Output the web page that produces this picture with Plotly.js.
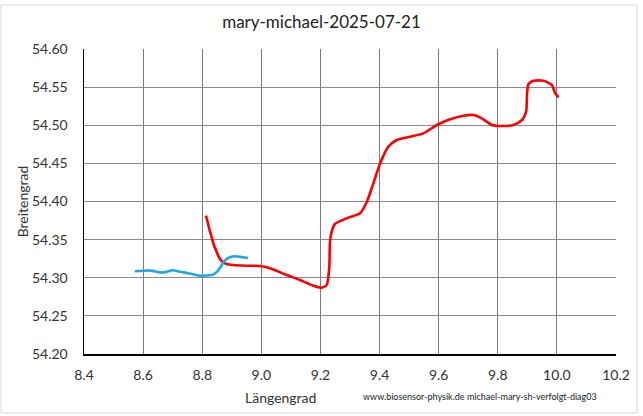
<!DOCTYPE html>
<html>
<head>
<meta charset="utf-8">
<script src="https://cdn.plot.ly/plotly-3.0.1.min.js"></script>
<style>
html,body{margin:0;padding:0;background:#fff;}
#chart{width:643px;height:416px;}
</style>
</head>
<body>
<div id="chart"></div>
<script>
// Michael track (blue)
const michaelLon = [8.572, 8.600, 8.623, 8.640, 8.656, 8.677, 8.700, 8.720, 8.741, 8.770, 8.792, 8.815, 8.836, 8.850, 8.860, 8.873, 8.887, 8.911, 8.934, 8.955];
const michaelLat = [54.3085, 54.3092, 54.3094, 54.3085, 54.3070, 54.3074, 54.3098, 54.3082, 54.3067, 54.3045, 54.3028, 54.3030, 54.3041, 54.3080, 54.3129, 54.3210, 54.3258, 54.3281, 54.3270, 54.3260];

// Mary track (red)
const maryLon = [8.812, 8.8167, 8.8234, 8.8316, 8.8394, 8.8485, 8.8573, 8.8688, 8.8824, 8.9047, 8.9501, 8.9952, 9.029, 9.086, 9.131, 9.176, 9.204, 9.221, 9.230, 9.232, 9.238, 9.249, 9.289, 9.334, 9.357, 9.379, 9.402, 9.430, 9.458, 9.503, 9.548, 9.594, 9.639, 9.684, 9.718, 9.746, 9.780, 9.808, 9.853, 9.882, 9.896, 9.899, 9.904, 9.921, 9.955, 9.983, 9.994, 10.006];
const maryLat = [54.3814, 54.3757, 54.3648, 54.3538, 54.3430, 54.3342, 54.3263, 54.3210, 54.3180, 54.3167, 54.3158, 54.3154, 54.3124, 54.3036, 54.2970, 54.2896, 54.2870, 54.2905, 54.3145, 54.3456, 54.3604, 54.3705, 54.3780, 54.3845, 54.3997, 54.4239, 54.4501, 54.4719, 54.4807, 54.4850, 54.4894, 54.5003, 54.5078, 54.5125, 54.5134, 54.5091, 54.5003, 54.4990, 54.5003, 54.5069, 54.5178, 54.5419, 54.5541, 54.5584, 54.5584, 54.5528, 54.5419, 54.5367];

const chartTitle = "mary-michael-2025-07-21";
const xTitle = "Längengrad";
const yTitle = "Breitengrad";
const footer = "www.biosensor-physik.de michael-mary-sh-verfolgt-diag03";

const font = "Lato, 'Open Sans', sans-serif";

const traces = [
  {x: maryLon, y: maryLat, type: 'scatter', mode: 'lines', name: 'mary',
   line: {color: '#ff0000', width: 2.6, shape: 'spline', smoothing: 0.6}},
  {x: michaelLon, y: michaelLat, type: 'scatter', mode: 'lines', name: 'michael',
   line: {color: '#1ea8e2', width: 2.6, shape: 'spline', smoothing: 0.6}}
];

const layout = {
  width: 643, height: 416,
  margin: {l: 84, r: 27, t: 49, b: 62},
  paper_bgcolor: '#ffffff', plot_bgcolor: '#ffffff',
  showlegend: false,
  font: {family: font, color: '#333333', size: 14},
  title: {text: chartTitle, x: 0.5, xanchor: 'center', y: 0.947, yanchor: 'middle',
          font: {family: font, size: 17, color: '#222222'}},
  xaxis: {range: [8.4, 10.2], dtick: 0.2, tick0: 8.4, tickformat: '.1f',
          showgrid: true, gridcolor: '#7a7a7a', gridwidth: 1,
          showline: true, linecolor: '#000000', linewidth: 1.5,
          zeroline: false, ticks: '', ticklabelstandoff: 8,
          tickfont: {family: font, size: 14, color: '#333333'}, fixedrange: true},
  yaxis: {range: [54.2, 54.6], dtick: 0.05, tick0: 54.2, tickformat: '.2f',
          showgrid: true, gridcolor: '#8a8a8a', gridwidth: 1.2,
          showline: true, linecolor: '#000000', linewidth: 1.5,
          zeroline: false, ticks: '', ticklabelstandoff: 12,
          title: {text: yTitle, standoff: 0, font: {family: font, size: 14, color: '#333333'}},
          tickfont: {family: font, size: 14, color: '#333333'}, fixedrange: true},
  annotations: [
    {text: xTitle, xref: 'paper', yref: 'paper', x: 0.370, y: -0.141,
     xanchor: 'center', yanchor: 'middle', showarrow: false,
     font: {family: font, size: 14, color: '#333333'}},
    {text: footer, xref: 'paper', yref: 'paper', x: 0.745, y: -0.138,
     xanchor: 'center', yanchor: 'middle', showarrow: false,
     font: {family: font, size: 9, color: '#222222'}}
  ],
  shapes: [
    {type: 'rect', xref: 'paper', yref: 'paper', x0: -0.156, x1: 1.0395, y0: -0.1934, y1: 1.1443,
     line: {color: '#d9d9d9', width: 1}, layer: 'below'}
  ]
};

Plotly.newPlot('chart', traces, layout, {displayModeBar: false, staticPlot: true});
</script>
</body>
</html>
